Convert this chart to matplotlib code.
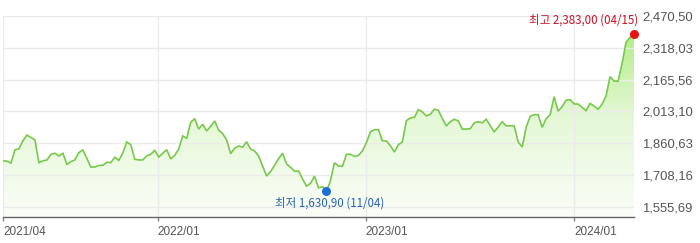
import numpy as np
import pandas as pd
import matplotlib
matplotlib.use("Agg")
import matplotlib.pyplot as plt
import matplotlib.dates as mdates
from matplotlib.colors import LinearSegmentedColormap

# ---- data (weekly closes) ----
values = [
    1777, 1775, 1766, 1829, 1835, 1873, 1900, 1889, 1877, 1768, 1777, 1781, 1808, 1813,
    1800, 1813, 1760, 1773, 1781, 1816, 1829, 1789, 1747, 1747, 1755, 1755, 1770,
    1768, 1794, 1779, 1814, 1867, 1854, 1784, 1781, 1781, 1801, 1808, 1827, 1795, 1813,
    1830, 1786, 1803, 1833, 1896, 1885, 1961, 1979, 1929, 1952, 1920, 1942, 1968,
    1924, 1907, 1877, 1811, 1837, 1848, 1842, 1868, 1833, 1824, 1800, 1752, 1704, 1725,
    1755, 1787, 1813, 1762, 1746, 1727, 1728, 1690, 1656, 1669, 1704, 1648, 1653,
    1630.9, 1682, 1768, 1752, 1751, 1808, 1808, 1798, 1803, 1824, 1864, 1916, 1926, 1926,
    1873, 1872, 1849, 1819, 1854, 1867, 1969, 1982, 1985, 2022, 2011,
    1992, 2000, 2024, 2019, 1980, 1944, 1964, 1976, 1968, 1929, 1929, 1931, 1959, 1964,
    1959, 1976, 1945, 1915, 1939, 1964, 1944, 1945, 1944, 1867, 1843, 1937, 1990,
    1998, 1998, 1937, 1979, 1998, 2084, 2015, 2036, 2067, 2070, 2049, 2049, 2033, 2017,
    2052, 2039, 2024, 2048, 2087, 2180, 2159, 2158, 2242, 2345, 2368, 2383,
]
end_date = "2024-04-15"
xtick_dates = ["2021-04-05", "2022-01-01", "2023-01-01", "2024-01-01"]
xtick_labels = ["2021/04", "2022/01", "2023/01", "2024/01"]
ytick_values = [1555.69, 1708.16, 1860.63, 2013.10, 2165.56, 2318.03, 2470.50]
ytick_labels = ["1,555,69", "1,708,16", "1,860,63", "2,013,10", "2,165,56", "2,318,03", "2,470,50"]
max_label = "최고 2,383,00 (04/15)"
min_label = "최저 1,630,90 (11/04)"

# ---- figure ----
W, H = 700, 243
fig = plt.figure(figsize=(W / 100, H / 100), dpi=100)
ax_left, ax_right, ax_top, ax_bot = 3, 634, 16, 217.3
ax = fig.add_axes([ax_left / W, (H - ax_bot) / H, (ax_right - ax_left) / W, (ax_bot - ax_top) / H])

dates = pd.date_range(end=end_date, periods=len(values), freq="7D")
x = mdates.date2num(dates)
v = np.array(values, dtype=float)
ymin, ymax = 1506.3, 2470.5

# gradient fill under the line
poly = ax.fill_between(x, v, ymin, facecolor="none", edgecolor="none")
cmap = LinearSegmentedColormap.from_list("g", ["#fbfef8", "#e4f8d6", "#a8ea76"])
grad = np.linspace(0, 1, 256).reshape(-1, 1)
im = ax.imshow(grad, extent=[x[0], x[-1], ymin, ymax], origin="lower",
               aspect="auto", cmap=cmap, zorder=1, interpolation="bilinear")
im.set_clip_path(poly.get_paths()[0], transform=ax.transData)

ax.plot(x, v, color="#78c94a", lw=1.2, zorder=3, solid_joinstyle="miter")

ax.set_xlim(x[0], x[-1])
ax.set_ylim(ymin, ymax)

# grid / axes styling
for s in ["top", "left", "right"]:
    ax.spines[s].set_visible(False)
ax.spines["bottom"].set_color("#666666")
ax.spines["bottom"].set_linewidth(1)
ax.spines["bottom"].set_zorder(4)

ax.set_xticks(mdates.date2num(pd.to_datetime(xtick_dates)))
ax.set_xticklabels(xtick_labels)
ax.set_yticks(ytick_values)
ax.set_yticklabels(ytick_labels)
ax.yaxis.tick_right()
ax.tick_params(axis="y", length=0, pad=6, labelsize=9.4, labelcolor="#555555")
ax.tick_params(axis="x", length=3, width=1, color="#888888", pad=3,
               labelsize=8.5, labelcolor="#555555")
for lab in ax.get_xticklabels():
    lab.set_horizontalalignment("left")
for lab in ax.get_yticklabels() + ax.get_xticklabels():
    lab.set_family(["Liberation Sans", "DejaVu Sans"])
ax.grid(True, color="#ebebeb", lw=1)
ax.set_axisbelow(False)
for gl in ax.get_xgridlines() + ax.get_ygridlines():
    gl.set_zorder(2)

# max / min markers and labels
imax = int(np.argmax(v))
imin = int(np.argmin(v))
kfont = ["Noto Sans CJK KR", "DejaVu Sans"]
ax.plot(x[imax], v[imax], "o", color="#ee1111", ms=5.5, zorder=5, clip_on=False)
ax.plot(x[imin], v[imin], "o", color="#1f6fd6", ms=5.5, zorder=5, clip_on=False)
ax.annotate(max_label, xy=(x[imax], v[imax]), xytext=(4, 14), textcoords="offset pixels",
            ha="right", va="center", fontsize=8.3, color="#cc1122", family=kfont, zorder=6)
ax.annotate(min_label, xy=(x[imin], v[imin]), xytext=(3, -12), textcoords="offset pixels",
            ha="center", va="center", fontsize=8.3, color="#2a62b0", family=kfont, zorder=6)

fig.savefig("out.png", dpi=100)
